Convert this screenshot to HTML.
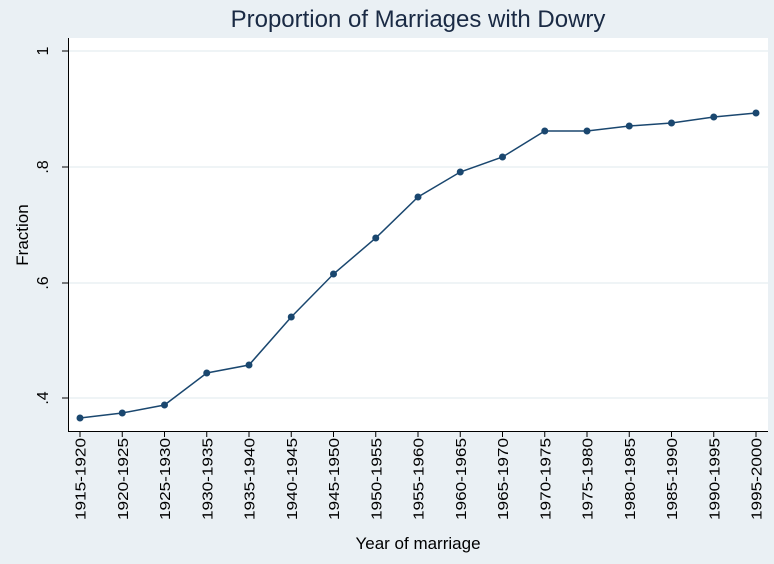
<!DOCTYPE html><html><head><style>body{margin:0;background:#eaf0f4}</style></head><body>
<svg width="774" height="559" xmlns="http://www.w3.org/2000/svg" font-family="Liberation Sans, Arial, sans-serif">
<rect width="774" height="559" fill="#eaf0f4"/>
<rect x="68" y="38" width="700" height="393" fill="#fff"/>
<g stroke="#eaf0f4" stroke-width="1.5">
<line x1="68" x2="768" y1="51" y2="51"/><line x1="68" x2="768" y1="167" y2="167"/><line x1="68" x2="768" y1="283" y2="283"/><line x1="68" x2="768" y1="398" y2="398"/></g>
<g stroke="#000" stroke-width="1"><line x1="68.5" x2="68.5" y1="38" y2="431"/><line x1="68" x2="768" y1="431.5" y2="431.5"/>
<line x1="62" x2="68" y1="51" y2="51"/><line x1="62" x2="68" y1="167" y2="167"/><line x1="62" x2="68" y1="283" y2="283"/><line x1="62" x2="68" y1="398" y2="398"/></g>
<g font-size="16" fill="#000" text-anchor="middle">
<text transform="translate(48,51) rotate(-90)">1</text>
<text transform="translate(48,167) rotate(-90)">.8</text>
<text transform="translate(48,283) rotate(-90)">.6</text>
<text transform="translate(48,398) rotate(-90)">.4</text>
<text transform="translate(28,235) rotate(-90)" font-size="17">Fraction</text>
<text x="418" y="549" font-size="17">Year of marriage</text>
<text x="418" y="27" font-size="24" fill="#1a2a44">Proportion of Marriages with Dowry</text>
</g>
<g id="x" font-size="15" fill="#000" text-anchor="end"></g>
<polyline id="ln" fill="none" stroke="#1a476f" stroke-width="1.5"/>
<g id="pts" fill="#1a476f"></g>
<script>
var ys=[418,413,405,373,365,317,274,238,197,172,157,131,131,126,123,117,113];
var g=document.getElementById('x'),p=document.getElementById('pts'),s='',ns='http://www.w3.org/2000/svg';
for(var i=0;i<17;i++){var x=80+i*42.25;var a=1915+5*i;
var t=document.createElementNS(ns,'text');t.setAttribute('transform','translate('+(x+5.5)+',438) rotate(-90)');t.setAttribute('textLength','82');t.setAttribute('lengthAdjust','spacingAndGlyphs');t.textContent=a+'-'+(a+5);g.appendChild(t);
var l=document.createElementNS(ns,'line');l.setAttribute('x1',x);l.setAttribute('x2',x);l.setAttribute('y1',431);l.setAttribute('y2',437);l.setAttribute('stroke','#000');g.appendChild(l);
var c=document.createElementNS(ns,'circle');c.setAttribute('cx',x);c.setAttribute('cy',ys[i]);c.setAttribute('r',3.5);p.appendChild(c);s+=x+','+ys[i]+' ';}
document.getElementById('ln').setAttribute('points',s);
</script>
</svg></body></html>
